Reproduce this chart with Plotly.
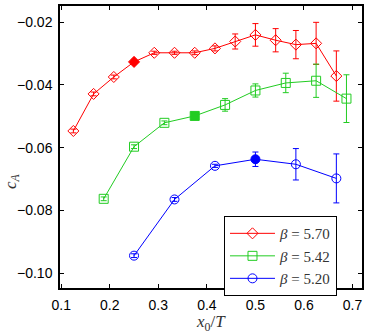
import plotly.graph_objects as go

# beta = 5.70 (N_t = 24)
x_570 = [3/24, 4/24, 5/24, 6/24, 7/24, 8/24, 9/24, 10/24, 11/24, 12/24, 13/24, 14/24, 15/24, 16/24]
y_570 = [-0.0547, -0.0429, -0.0375, -0.0327, -0.0298, -0.0298, -0.0298, -0.0284,
         -0.0262, -0.0241, -0.0258, -0.0272, -0.0268, -0.0372]
e_570 = [0.0006, 0.0006, 0.0006, 0.0006, 0.0005, 0.0005, 0.0006, 0.0008,
         0.0024, 0.0036, 0.0037, 0.0045, 0.0067, 0.0080]
filled_570 = 3

# beta = 5.42 (N_t = 16)
x_542 = [3/16, 4/16, 5/16, 6/16, 7/16, 8/16, 9/16, 10/16, 11/16]
y_542 = [-0.0763, -0.0597, -0.0521, -0.0499, -0.0464, -0.0418, -0.0394, -0.0387, -0.0444]
e_542 = [0.0006, 0.0006, 0.0006, 0.0006, 0.0020, 0.0021, 0.0031, 0.0053, 0.0076]
filled_542 = 3

# beta = 5.20 (N_t = 12)
x_520 = [3/12, 4/12, 5/12, 6/12, 7/12, 8/12]
y_520 = [-0.0944, -0.0765, -0.0658, -0.0637, -0.0653, -0.0698]
e_520 = [0.0006, 0.0006, 0.0005, 0.0023, 0.0050, 0.0078]
filled_520 = 3

x_ticks = [0.1, 0.2, 0.3, 0.4, 0.5, 0.6, 0.7]
y_ticks = [-0.10, -0.08, -0.06, -0.04, -0.02]

series = [
    ("<i>β</i> = 5.70", x_570, y_570, e_570, filled_570, "#ff0000", "diamond", 8.5),
    ("<i>β</i> = 5.42", x_542, y_542, e_542, filled_542, "#22cc22", "square", 9),
    ("<i>β</i> = 5.20", x_520, y_520, e_520, filled_520, "#0000ff", "circle", 9),
]

fig = go.Figure()
for name, xs, ys, es, fi, col, sym, sz in series:
    symbols = [sym if i == fi else sym + "-open" for i in range(len(xs))]
    fig.add_trace(go.Scatter(
        x=xs, y=ys, name=name, mode="lines+markers",
        line=dict(color=col, width=1),
        marker=dict(symbol=symbols, size=sz, color=col, line=dict(color=col, width=1)),
        error_y=dict(type="data", array=es, visible=True, color=col, thickness=1, width=3),
    ))

axis_common = dict(
    showline=True, mirror="ticks", linecolor="black", linewidth=1.5,
    ticks="inside", ticklen=4, tickcolor="black", tickwidth=1,
    showgrid=False, zeroline=False, automargin=False,
    tickfont=dict(family="Liberation Sans, Arial, sans-serif", size=14, color="black"),
)

fig.update_layout(
    width=365, height=335,
    margin=dict(l=60, r=3, t=6, b=47, autoexpand=False),
    plot_bgcolor="white", paper_bgcolor="white",
    xaxis=dict(range=[0.0975, 0.7195], tickvals=x_ticks,
               ticktext=[f"{v:.1f}" for v in x_ticks], ticklabelstandoff=3, **axis_common),
    yaxis=dict(range=[-0.1047, -0.0149], tickvals=y_ticks,
               ticktext=[f"−{abs(v):.2f}" for v in y_ticks], ticklabelstandoff=3, **axis_common),
    legend=dict(
        x=0.543, y=0.255, xanchor="left", yanchor="top",
        bgcolor="white", bordercolor="black", borderwidth=1,
        font=dict(family="Liberation Serif, DejaVu Serif, serif", size=15, color="#333"),
        itemwidth=45, tracegroupgap=0,
    ),
    showlegend=True,
    annotations=[
        dict(text="<i>c</i><sub><i>A</i></sub>", xref="paper", yref="paper",
             x=-0.159, y=0.379, xanchor="center", yanchor="middle", textangle=-90,
             showarrow=False, font=dict(family="Liberation Serif, serif", size=17, color="#333")),
        dict(text="<i>x</i><sub>0</sub>/<i>T</i>", xref="paper", yref="paper",
             x=0.5, y=-0.124, xanchor="center", yanchor="middle",
             showarrow=False, font=dict(family="Liberation Serif, serif", size=17, color="#333")),
    ],
)

fig.write_html("out.html", config={"displayModeBar": False},
               post_script="document.body.style.margin='0';")
